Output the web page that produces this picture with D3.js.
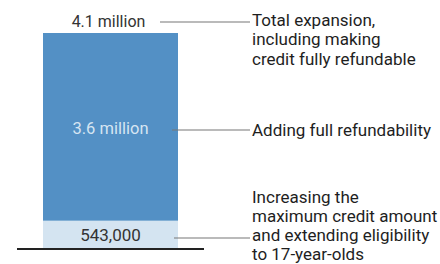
<!DOCTYPE html>
<html><head><meta charset="utf-8">
<script src="https://cdn.jsdelivr.net/npm/d3@7"></script>
<style>
html,body{margin:0;padding:0;background:#fff;}
svg{display:block;font-family:Roboto, "Noto Sans", sans-serif;}
</style></head>
<body>
<svg id="c" width="440" height="264"></svg>
<script>
const categories = ["Child Tax Credit expansion"];
const segmentNames = ["Increasing the maximum credit amount and extending eligibility to 17-year-olds", "Adding full refundability"];
const segmentValues = [0.543, 3.6]; // millions
const segmentLabels = ["543,000", "3.6 million"];
const totalLabel = "4.1 million";
const annotationLines = [
  ["Total expansion,", "including making", "credit fully refundable"],
  ["Adding full refundability"],
  ["Increasing the", "maximum credit amount", "and extending eligibility", "to 17-year-olds"]
];
const colors = ["#d4e4f1", "#5390c5"];

const svg = d3.select("#c");
const total = d3.sum(segmentValues);
const y = d3.scaleLinear().domain([0, total]).range([249, 33]);
const x = d3.scaleBand().domain(categories).range([43, 178]).padding(0);

let cum = 0;
const segs = segmentValues.map((v, i) => { const s = {v, y0: cum, y1: cum + v, i}; cum += v; return s; });

const g = svg.append("g");
g.selectAll("rect").data(segs).join("rect")
  .attr("x", x(categories[0]))
  .attr("width", x.bandwidth())
  .attr("y", d => y(d.y1))
  .attr("height", d => y(d.y0) - y(d.y1))
  .attr("fill", d => colors[d.i]);

// baseline
svg.append("line").attr("x1", 17).attr("x2", 204).attr("y1", y(0)).attr("y2", y(0))
  .attr("stroke", "#222").attr("stroke-width", 2);

const cx = x(categories[0]) + x.bandwidth() / 2;
const fs = 16.5;

// value labels
svg.append("text").attr("x", cx - 2).attr("y", 27).attr("text-anchor", "middle")
  .attr("font-size", 16).attr("fill", "#333").text(totalLabel);
svg.append("text").attr("x", cx).attr("y", 134).attr("text-anchor", "middle")
  .attr("font-size", fs).attr("fill", "#d6e5f2").text(segmentLabels[1]);
svg.append("text").attr("x", cx).attr("y", 241).attr("text-anchor", "middle")
  .attr("font-size", 17).attr("fill", "#333").text(segmentLabels[0]);

// leaders
const leaders = [
  {x1: 160, y: 22},
  {x1: 172, y: 130},
  {x1: 174, y: 238}
];
svg.selectAll("line.lead").data(leaders).join("line").attr("class", "lead")
  .attr("x1", d => d.x1).attr("x2", 250).attr("y1", d => d.y).attr("y2", d => d.y)
  .attr("stroke", "#777").attr("stroke-width", 1.2);

// annotation text
const fsR = 17;
const lhs = [19.3, 19.3, 19];
const baselines = [26, 136, 203];
annotationLines.forEach((lines, i) => {
  const t = svg.append("text").attr("x", 252).attr("y", baselines[i]).attr("font-size", fsR).attr("fill", "#1e1e1e");
  lines.forEach((l, j) => t.append("tspan").attr("x", 252).attr("y", baselines[i] + j * lhs[i]).text(l));
});
</script>
</body></html>
